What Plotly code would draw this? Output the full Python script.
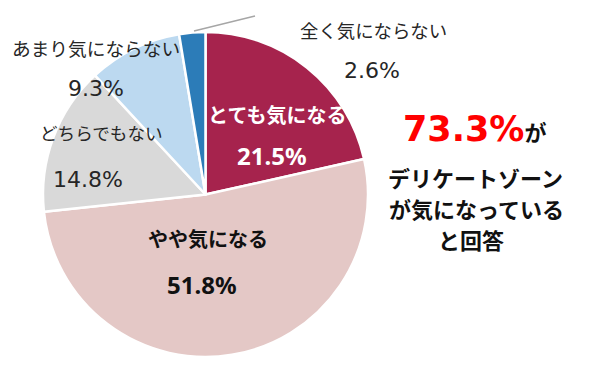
import plotly.graph_objects as go

categories = ["とても気になる", "やや気になる", "どちらでもない", "あまり気にならない", "全く気にならない"]
values = [21.5, 51.8, 14.8, 9.3, 2.6]
colors = ["#A6234D", "#E4C8C6", "#D9D9D9", "#BCD9F0", "#2C7CB8"]

# the page body adds an 8px margin, so the figure is sized to fit the 600x365 window
OFF = 8
W, H = 600 - 2 * OFF, 365 - 2 * OFF

def px(x, y):
    return (x - OFF) / W, 1 - (y - OFF) / H

pl, pr, pt, pb = 43, 368, 32, 357
fig = go.Figure(go.Pie(
    labels=categories, values=values, sort=False, direction="clockwise", rotation=0,
    marker=dict(colors=colors, line=dict(color="white", width=2.5)),
    textinfo="none", hoverinfo="label+percent", showlegend=False,
    domain=dict(x=[(pl - OFF) / W, (pr - OFF) / W],
                y=[max(0, 1 - (pb - OFF) / H), 1 - (pt - OFF) / H]),
))

cjk = "Noto Sans CJK JP"
label_pos = [
    (277, 114, 20, "white", True),
    (208, 238, 20, "#111111", True),
    (101, 133, 17.6, "#262626", False),
    (96, 47, 18.7, "#262626", False),
    (373, 30, 18.4, "#262626", False),
]
pct_pos = [
    (272, 155, "white", True),
    (202, 284, "#111111", True),
    (88, 179, "#262626", False),
    (96, 88, "#262626", False),
    (372, 71, "#262626", False),
]
ann = []
for cat, val, lp, pp in zip(categories, values, label_pos, pct_pos):
    x, y, fs, c, b = lp
    t = f"<b>{cat}</b>" if b else cat
    ax, ay = px(x, y)
    ann.append(dict(x=ax, y=ay, xref="paper", yref="paper", text=t, showarrow=False,
                    font=dict(size=fs, color=c, family=cjk), xanchor="center", yanchor="middle"))
    x, y, c, b = pp
    t = f"{val:.1f}%"
    if b:
        t = f"<b>{t}</b>"
        f = dict(size=24, color=c, family="Noto Sans")
    else:
        f = dict(size=22, color=c, family="DejaVu Sans")
    ax, ay = px(x, y)
    ann.append(dict(x=ax, y=ay, xref="paper", yref="paper", text=t, showarrow=False,
                    font=f, xanchor="center", yanchor="middle"))

total = values[0] + values[1]
side = [
    (474, 129, f"<b><span style='color:#FF0000;font-size:35px;font-family:DejaVu Sans'>{total:.1f}%</span><span style='font-size:22px'>が</span></b>"),
    (475, 177, "<b>デリケートゾーン</b>"),
    (476, 208, "<b>が気になっている</b>"),
    (471, 239, "<b>と回答</b>"),
]
for x, y, t in side:
    ax, ay = px(x, y)
    ann.append(dict(x=ax, y=ay, xref="paper", yref="paper", text=t, showarrow=False,
                    font=dict(size=22, color="#111111", family=cjk), xanchor="center", yanchor="middle"))

x0, y0 = px(194, 31)
x1, y1 = px(255, 16)
fig.update_layout(
    width=W, height=H, margin=dict(l=0, r=0, t=0, b=0),
    paper_bgcolor="white", plot_bgcolor="white",
    annotations=ann,
    shapes=[dict(type="line", xref="paper", yref="paper", x0=x0, y0=y0, x1=x1, y1=y1,
                 line=dict(color="#A6A6A6", width=1.5))],
)
fig.write_html("out.html")
